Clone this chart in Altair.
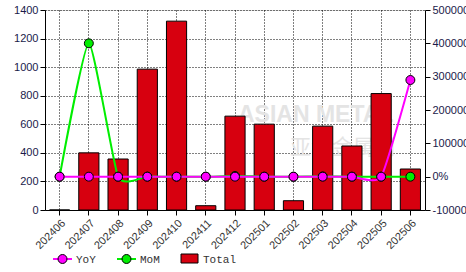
import altair as alt
import pandas as pd

months = ["202406", "202407", "202408", "202409", "202410", "202411", "202412",
          "202501", "202502", "202503", "202504", "202505", "202506"]
total = [0, 400, 357, 986, 1322, 30, 657, 601, 65, 587, 448, 815, 287]
yoy = [0, 0, 0, 0, 0, 0, 0, 0, 0, 0, 0, 0, 290000]
mom = [0, 400000, -11, 176, 34, -98, 2090, -8, -89, 803, -24, 82, -65]

df = pd.DataFrame({"month": months, "total": total, "yoy": yoy, "mom": mom})

FONT = "Liberation Sans"
LABEL = "#1a1a4a"

xenc = alt.X("month:N", sort=months, title=None,
             scale=alt.Scale(paddingInner=0.31, paddingOuter=0.155),
             axis=alt.Axis(labelAngle=-45, labelFont=FONT, labelFontSize=11,
                           labelColor="#333333", domainColor="black", tickColor="black",
                           tickSize=5, grid=True, gridColor="black", gridDash=[1, 2],
                           gridOpacity=1, labelPadding=2))

base = alt.Chart(df)

bars = base.mark_bar(color="#d7000f", stroke="black", strokeWidth=1).encode(
    x=xenc,
    y=alt.Y("total:Q", title=None,
            scale=alt.Scale(domain=[0, 1400], nice=False),
            axis=alt.Axis(values=list(range(0, 1401, 200)), format="d", labelFont=FONT,
                          labelFontSize=11, labelColor=LABEL, domainColor="black",
                          tickColor="black", tickSize=5, grid=True, gridColor="black",
                          gridDash=[1, 2], gridOpacity=1, labelPadding=2)),
)

rscale = alt.Scale(domain=[-100000, 500000], nice=False)
raxis = alt.Axis(orient="right", values=list(range(-100000, 500001, 100000)),
                 labelExpr="datum.value + '%'", labelFont=FONT, labelFontSize=11,
                 labelColor=LABEL, domainColor="black", tickColor="black", tickSize=5,
                 grid=False, labelPadding=2)

ry_mom = alt.Y("mom:Q", scale=rscale, axis=raxis, title=None)
ry_yoy = alt.Y("yoy:Q", scale=rscale, axis=raxis, title=None)
xs = alt.X("month:N", sort=months)

mom_line = base.mark_line(color="#00ee00", strokeWidth=2, interpolate="cardinal",
                          tension=0.5).encode(x=xs, y=ry_mom)
mom_pts = base.mark_point(filled=True, fill="#00ee00", stroke="black", strokeWidth=1,
                          size=80, opacity=1, shape="circle").encode(x=xs, y=ry_mom)
yoy_line = base.mark_line(color="#ff00ff", strokeWidth=2, interpolate="cardinal",
                          tension=0.5).encode(x=xs, y=ry_yoy)
yoy_pts = base.mark_point(filled=True, fill="#ff00ff", stroke="black", strokeWidth=1,
                          size=80, opacity=1, shape="circle").encode(x=xs, y=ry_yoy)

right = alt.layer(mom_line, mom_pts, yoy_line, yoy_pts)

# watermark
wm = alt.Chart(pd.DataFrame({"t": ["ASIAN METAL"]})).mark_text(
    font=FONT, fontSize=23, fontWeight="bold", color="#e4e4e4", align="left",
    baseline="alphabetic"
).encode(text="t:N", x=alt.value(193), y=alt.value(112))
wm2 = alt.Chart(pd.DataFrame({"t": ["亚洲金属网"]})).mark_text(
    font="Noto Sans CJK SC", fontSize=21, color="#e4e4e4", align="left", baseline="middle"
).encode(text="t:N", x=alt.value(245), y=alt.value(138))

# legend
leg_names = ["YoY", "MoM", "Total"]
leg_colors = ["#ff00ff", "#00ee00", "#d7000f"]
leg = []
lx = [8, 72, 136]
for i, (n, c) in enumerate(zip(leg_names, leg_colors)):
    d = pd.DataFrame({"t": [n]})
    x0 = lx[i]
    if n != "Total":
        leg.append(alt.Chart(d).mark_rule(color=c, strokeWidth=2).encode(
            x=alt.value(x0), x2=alt.value(x0 + 19), y=alt.value(249)))
        leg.append(alt.Chart(d).mark_point(filled=True, fill=c, stroke="black", strokeWidth=1,
                                           size=80, opacity=1).encode(
            x=alt.value(x0 + 9.5), y=alt.value(249)))
        tx = x0 + 23
    else:
        leg.append(alt.Chart(d).mark_rect(color=c, stroke="black", strokeWidth=1).encode(
            x=alt.value(x0), x2=alt.value(x0 + 17), y=alt.value(244), y2=alt.value(253)))
        tx = x0 + 22
    leg.append(alt.Chart(d).mark_text(font="Liberation Mono", fontSize=11, color="#333333",
                                      align="left", baseline="middle").encode(
        text="t:N", x=alt.value(tx), y=alt.value(250)))

chart = alt.layer(wm, wm2, bars, right, *leg).resolve_scale(y="independent").properties(
    width=380, height=200,
    autosize=alt.AutoSizeParams(type="none"),
    padding={"left": 45, "top": 10, "right": 41, "bottom": 62},
).configure_view(stroke=None).configure(background="white")

chart.save("out.html", embed_options={"renderer": "svg", "actions": False})
